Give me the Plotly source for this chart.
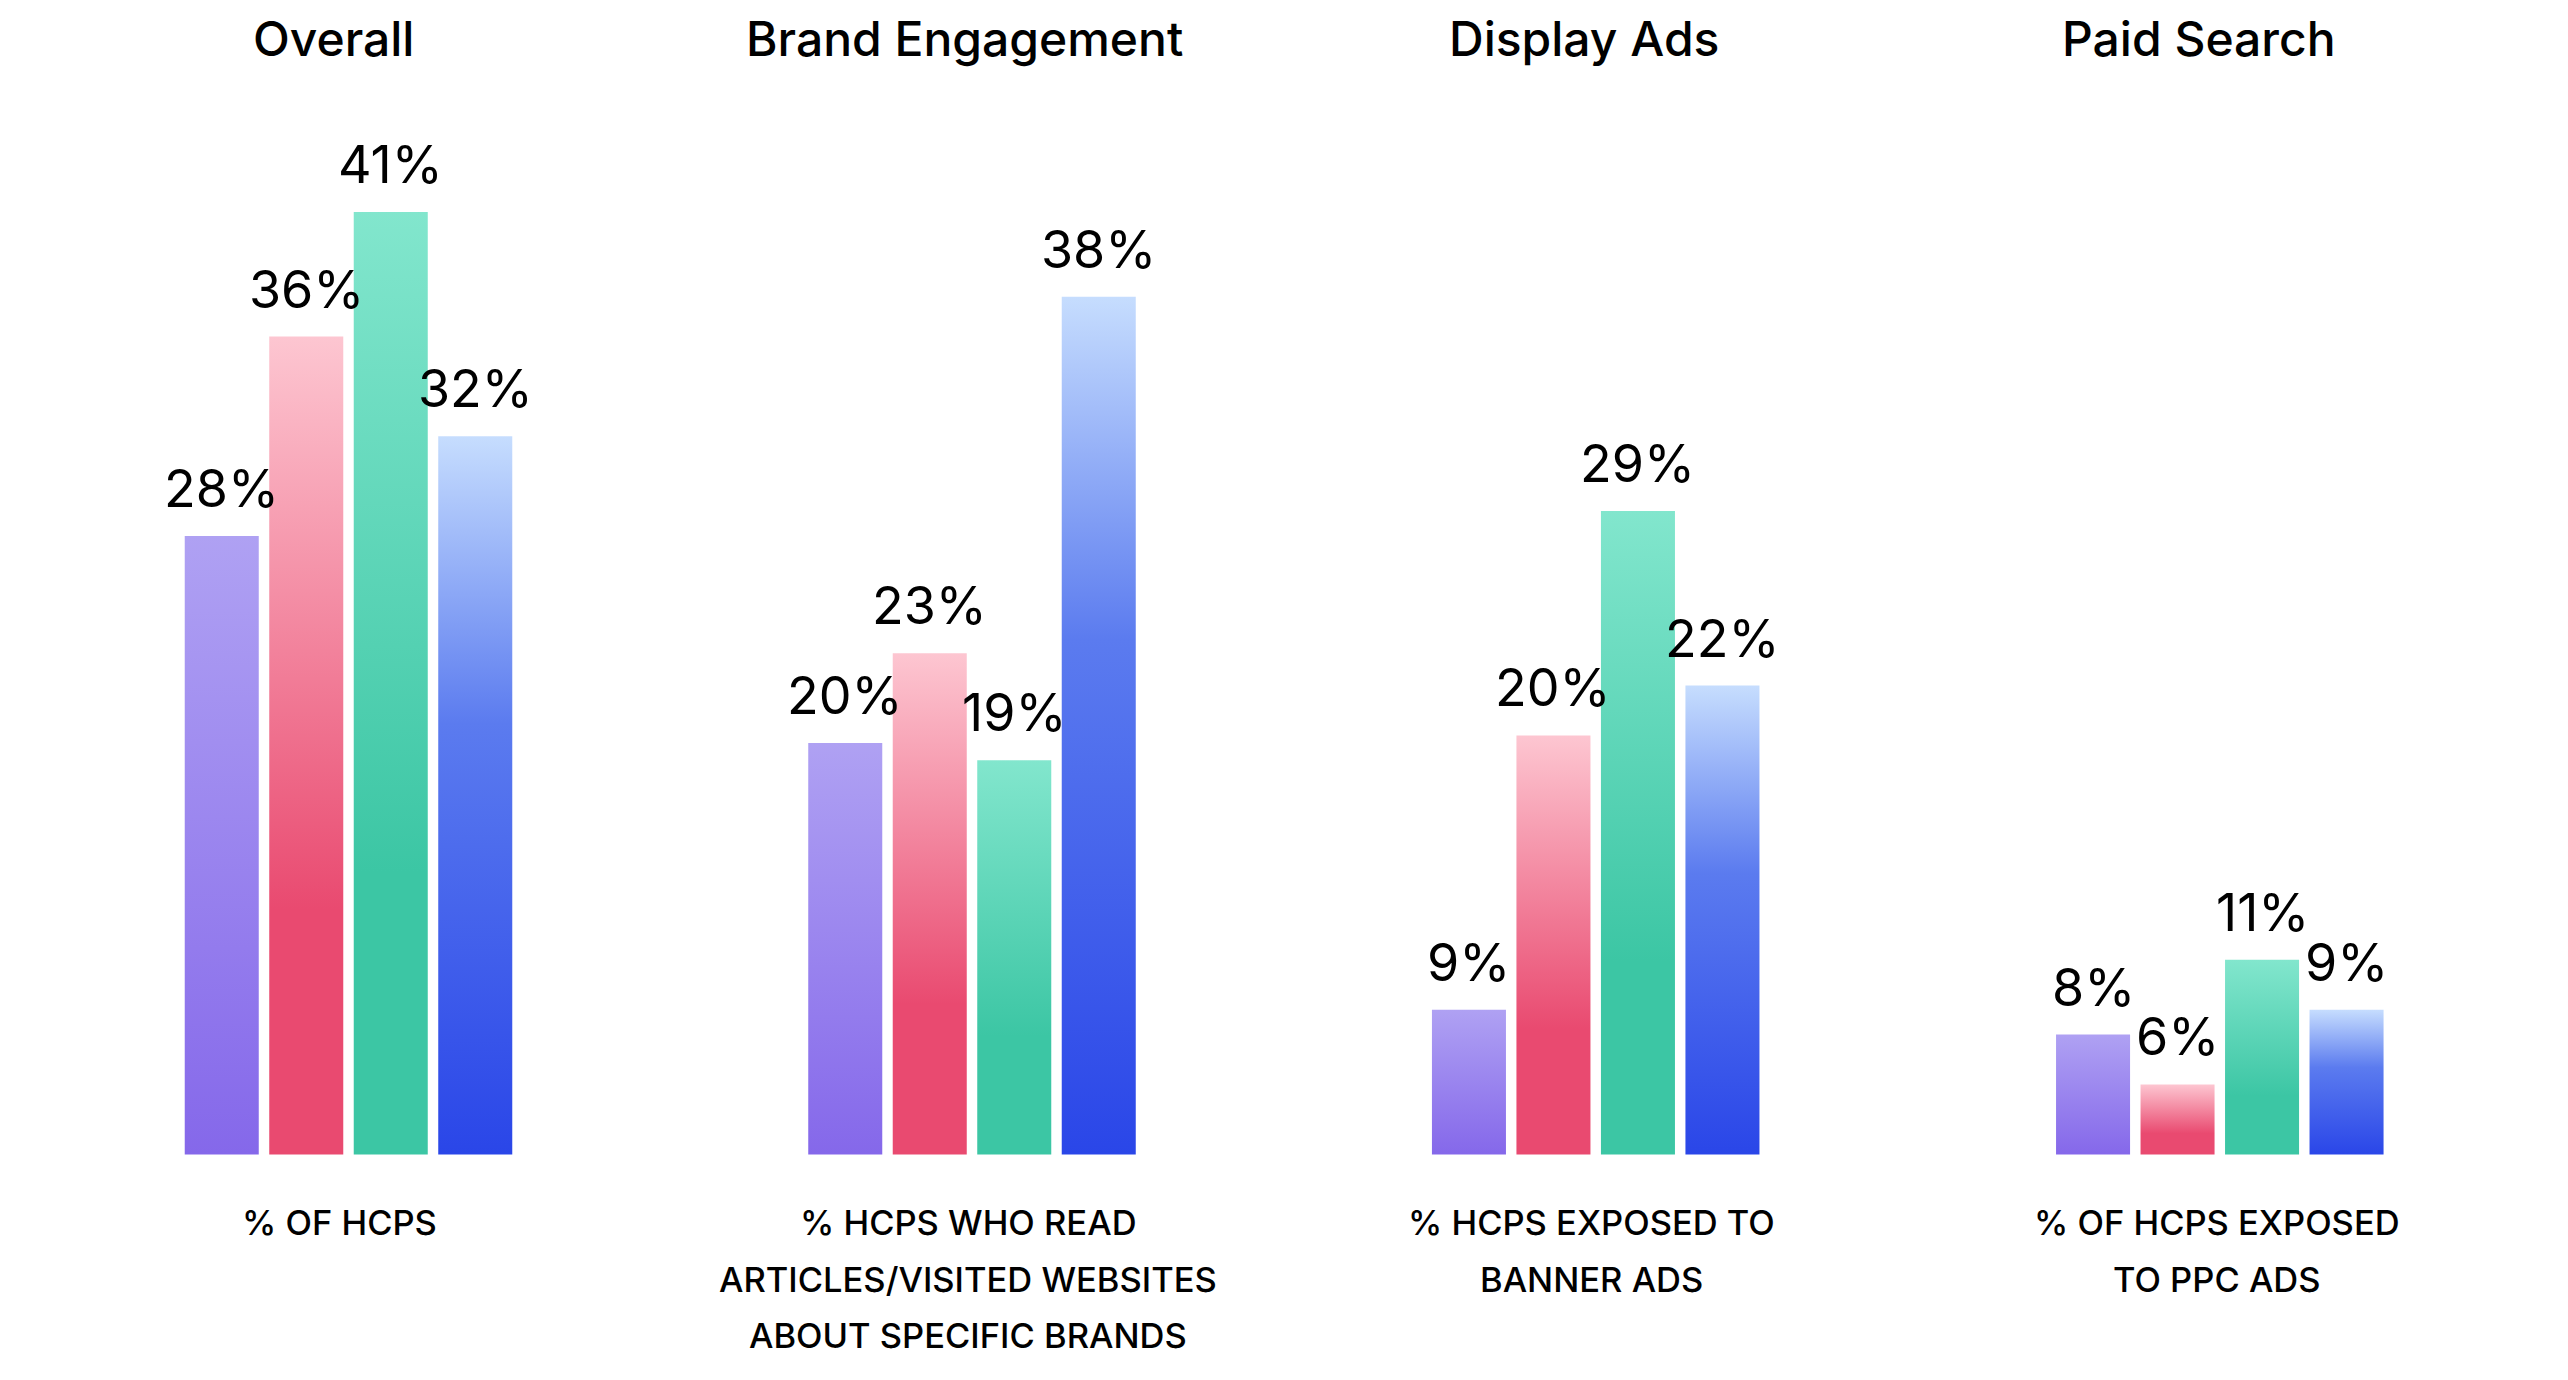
import plotly.graph_objects as go

# ---------------- data ----------------
panels = ["Overall", "Brand Engagement", "Display Ads", "Paid Search"]
subtitles = [
    ["% OF HCPS"],
    ["% HCPS WHO READ", "ARTICLES/VISITED WEBSITES", "ABOUT SPECIFIC BRANDS"],
    ["% HCPS EXPOSED TO", "BANNER ADS"],
    ["% OF HCPS EXPOSED", "TO PPC ADS"],
]
series = ["Series 1", "Series 2", "Series 3", "Series 4"]
overall = [28.0, 36.0, 41.0, 32.0]
brand_engagement = [19.7, 23.3, 19.0, 37.6]
display_ads = [9.0, 20.0, 29.0, 22.0]
paid_search = [8.0, 6.0, 11.0, 9.0]
panel_values = [overall, brand_engagement, display_ads, paid_search]

# ---------------- styles / layout ----------------
W, H = 2568, 1380
FONT = "Inter"
UNIT_PX = 84.5                      # pixel distance between neighbouring bars
CENTERS_PX = [348.5, 972.0, 1595.7, 2219.8]
TITLE_X_PX = [333, 965, 1583.5, 2199]
SUB_X_PX = [340, 968, 1591, 2217]
BAR_W = 0.876
Y_MIN = 3.19
PX_PER_UNIT_Y = 24.93
PLOT_BOTTOM_PX = 1154.5
PLOT_TOP_PX = 100
Y_MAX = Y_MIN + (PLOT_BOTTOM_PX - PLOT_TOP_PX) / PX_PER_UNIT_Y

gradients = [
    [[0, "#8568EA"], [1, "#AFA1F3"]],
    [[0, "#E94A70"], [0.3, "#E94A70"], [1, "#FDC6D1"]],
    [[0, "#3CC6A4"], [0.3, "#3CC6A4"], [1, "#82E6CD"]],
    [[0, "#2A46E8"], [0.6, "#5B7BEF"], [1, "#C6DDFE"]],
]

fig = go.Figure()
annotations = []

for k, (panel, vals) in enumerate(zip(panels, panel_values)):
    xname = "x" if k == 0 else f"x{k+1}"
    for i, v in enumerate(vals):
        fig.add_trace(go.Scatter(
            x=[i - BAR_W / 2, i + BAR_W / 2], y=[v, v],
            mode="none", fill="tozeroy",
            fillgradient=dict(type="vertical", colorscale=gradients[i],
                              start=Y_MIN, stop=v),
            xaxis=xname, yaxis="y", name=series[i],
            hoverinfo="skip", showlegend=False,
        ))
        annotations.append(dict(
            xref=xname, yref="y", x=i, y=v, text=f"{round(v)}%",
            showarrow=False, yanchor="bottom", xanchor="center", yshift=14,
            font=dict(family=FONT, size=52, color="#000000", weight=400),
        ))
    # panel title
    annotations.append(dict(
        xref="paper", yref="paper", x=TITLE_X_PX[k] / W, y=1 - 70.5 / H,
        text=panel, showarrow=False, xanchor="center", yanchor="bottom",
        font=dict(family=FONT, size=48, color="#000000", weight=500),
    ))
    # subtitle lines
    for j, line in enumerate(subtitles[k]):
        base_px = 1236 + 56.5 * j
        annotations.append(dict(
            xref="paper", yref="paper", x=SUB_X_PX[k] / W,
            y=1 - (base_px + 9.3) / H,
            text=line, showarrow=False, xanchor="center", yanchor="bottom",
            font=dict(family=FONT, size=34.5, color="#000000", weight=500),
        ))
    half = 3.5 * UNIT_PX
    fig.layout[("xaxis" if k == 0 else f"xaxis{k+1}")] = dict(
        domain=[(CENTERS_PX[k] - half) / W, (CENTERS_PX[k] + half) / W],
        range=[-2, 5], visible=False, fixedrange=True, anchor="y",
    )

fig.update_layout(
    width=W, height=H, autosize=False,
    margin=dict(l=0, r=0, t=0, b=0, pad=0),
    paper_bgcolor="white", plot_bgcolor="white",
    yaxis=dict(domain=[1 - PLOT_BOTTOM_PX / H, 1 - PLOT_TOP_PX / H],
               range=[Y_MIN, Y_MAX], visible=False, fixedrange=True),
    annotations=annotations,
    showlegend=False,
    font=dict(family=FONT),
)

fig.write_html(
    "out.html",
    config={"displayModeBar": False},
    post_script="document.body.style.margin='0';document.body.style.overflow='hidden';",
)
